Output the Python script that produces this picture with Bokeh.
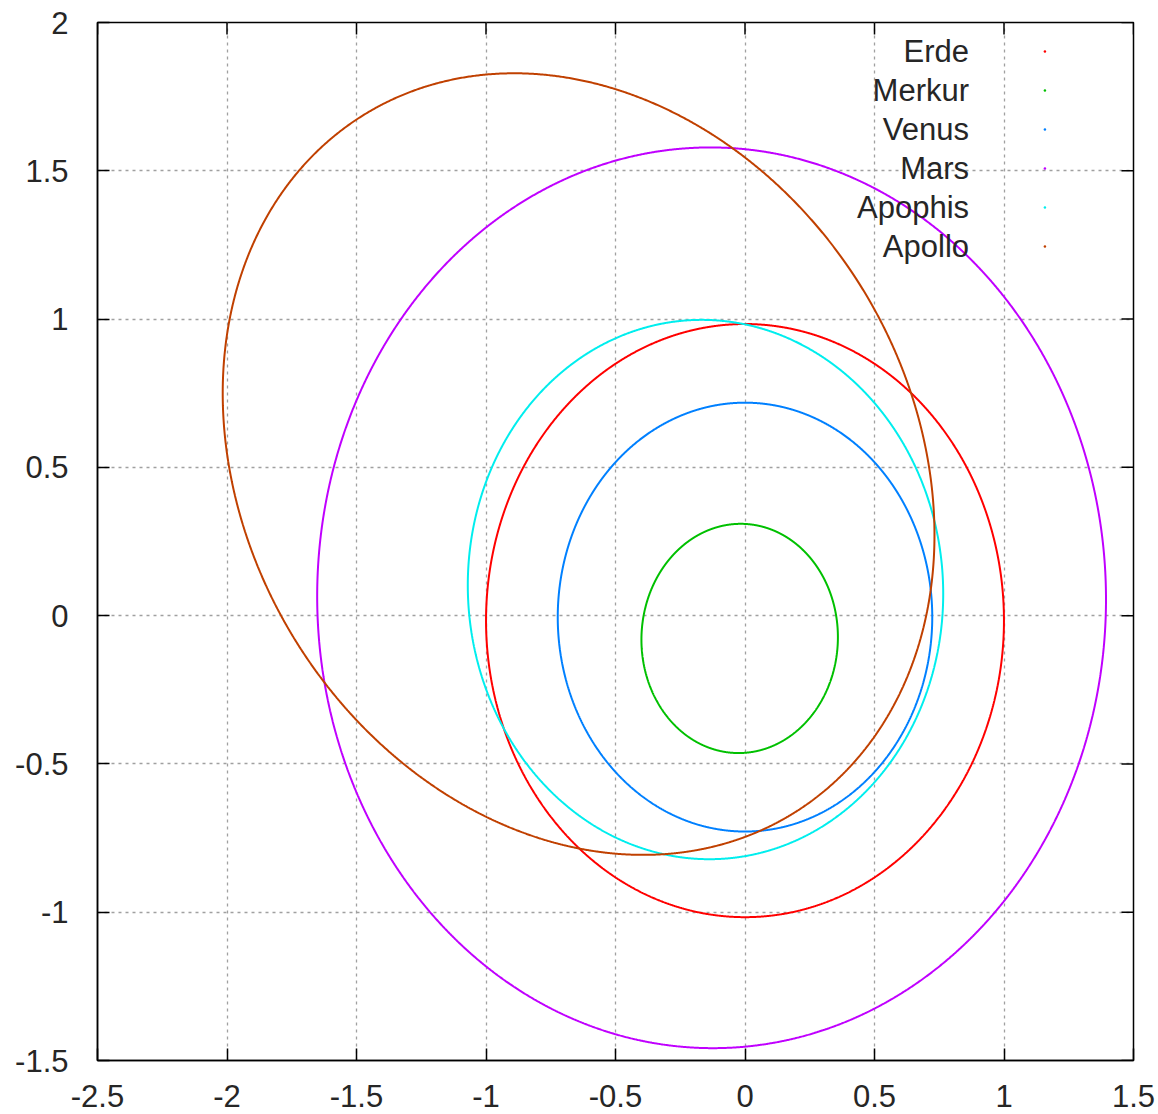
import numpy as np
from bokeh.plotting import figure
from bokeh.models import Range1d, FixedTicker
from bokeh.core.properties import value
from bokeh.embed import file_html
from bokeh.resources import INLINE

# Orbital elements (heliocentric, projected onto the ecliptic plane)
names = ["Erde", "Merkur", "Venus", "Mars", "Apophis", "Apollo"]
semi_major_au = [1.000, 0.387, 0.723, 1.524, 0.922, 1.466]
eccentricity = [0.0167, 0.2056, 0.0068, 0.0934, 0.191, 0.560]
perihelion_deg = [90.0, 75.0, 90.0, -25.0, -30.0, -38.5]
colors = ["#ff0000", "#00c000", "#0080ff", "#c000ff", "#00eeee", "#c04000"]

# Axis ticks and their labels
x_ticks = [-2.5, -2.0, -1.5, -1.0, -0.5, 0.0, 0.5, 1.0, 1.5]
x_tick_labels = ["-2.5", "-2", "-1.5", "-1", "-0.5", "0", "0.5", "1", "1.5"]
y_ticks = [-1.5, -1.0, -0.5, 0.0, 0.5, 1.0, 1.5, 2.0]
y_tick_labels = ["-1.5", "-1", "-0.5", "0", "0.5", "1", "1.5", "2"]

X_MIN, X_MAX = -2.5, 1.5
Y_MIN, Y_MAX = -1.5, 2.0
FRAME_W, FRAME_H = 1036, 1038
TICK_PX = 12

FONT = "Liberation Sans"
TEXT_COLOR = "#262626"
FONT_SIZE = "31px"


def tick_key(t):
    return int(t) if float(t).is_integer() else t


p = figure(
    frame_width=FRAME_W, frame_height=FRAME_H,
    min_border_left=97, min_border_right=25,
    min_border_top=22, min_border_bottom=54,
    x_range=Range1d(X_MIN, X_MAX), y_range=Range1d(Y_MIN, Y_MAX),
    output_backend="svg", toolbar_location=None,
    background_fill_color="white", border_fill_color="white",
)
p.outline_line_color = "black"
p.outline_line_width = 1.5

# Dotted grid
p.xgrid.ticker = FixedTicker(ticks=x_ticks)
p.ygrid.ticker = FixedTicker(ticks=y_ticks)
for g in (p.xgrid[0], p.ygrid[0]):
    g.grid_line_color = "#a0a0a0"
    g.grid_line_width = 1.3
    g.grid_line_dash = "3 4"

# Orbits: r = a(1-e^2) / (1 + e cos(theta - omega)), Sun at the origin
theta = np.linspace(0.0, 2.0 * np.pi, 2881)
for a, e, w, c in zip(semi_major_au, eccentricity, perihelion_deg, colors):
    r = a * (1.0 - e * e) / (1.0 + e * np.cos(theta - np.radians(w)))
    p.line(r * np.cos(theta), r * np.sin(theta), line_color=c, line_width=2)

# Labelled axes below and left, ticks pointing inward
for ax, ticks, labels in ((p.xaxis[0], x_ticks, x_tick_labels),
                          (p.yaxis[0], y_ticks, y_tick_labels)):
    ax.ticker = FixedTicker(ticks=ticks)
    ax.major_label_overrides = {tick_key(t): s for t, s in zip(ticks, labels)}
    ax.major_label_text_font = FONT
    ax.major_label_text_font_size = FONT_SIZE
    ax.major_label_text_color = TEXT_COLOR
    ax.major_tick_in = TICK_PX
    ax.major_tick_out = 0
    ax.major_tick_line_width = 1.5
    ax.major_tick_line_color = "black"
    ax.minor_tick_line_color = None
    ax.axis_line_color = "black"
    ax.axis_line_width = 1.5
p.xaxis[0].major_label_standoff = 24
p.yaxis[0].major_label_standoff = 29

# Mirrored tick marks on the top and right edges of the frame
dy = TICK_PX * (Y_MAX - Y_MIN) / FRAME_H
dx = TICK_PX * (X_MAX - X_MIN) / FRAME_W
p.segment(x0=x_ticks, y0=[Y_MAX] * len(x_ticks),
          x1=x_ticks, y1=[Y_MAX - dy] * len(x_ticks),
          line_color="black", line_width=1.5)
p.segment(x0=[X_MAX] * len(y_ticks), y0=y_ticks,
          x1=[X_MAX - dx] * len(y_ticks), y1=y_ticks,
          line_color="black", line_width=1.5)

# Key in the upper right: names right-aligned, a dot sample to their right
key_text_x = 0.865
key_dot_x = 1.158
key_top = 1.902
key_step = 0.1315
key_y = [key_top - i * key_step for i in range(len(names))]
p.text(x=[key_text_x] * len(names), y=key_y, text=names,
       text_font=value(FONT), text_font_size=FONT_SIZE,
       text_color=TEXT_COLOR, text_align="right", text_baseline="middle")
p.scatter(x=[key_dot_x] * len(names), y=key_y, size=2.5,
          fill_color=colors, line_color=None)

open("out.html", "w").write(file_html(p, INLINE))
